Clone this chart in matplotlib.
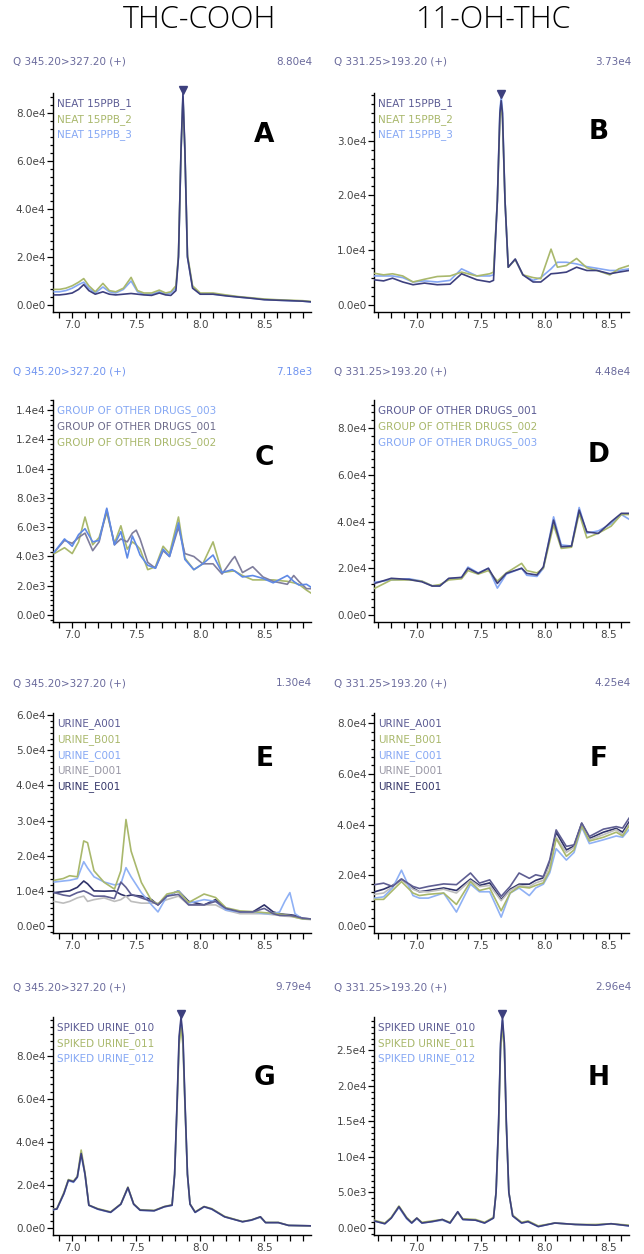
import matplotlib
matplotlib.use('Agg')
import matplotlib.pyplot as plt
import matplotlib.transforms as mtransforms
from matplotlib.ticker import MultipleLocator, AutoMinorLocator, FuncFormatter
import numpy as np

# ---- data (time in min, intensity in e4 unless noted) ----
a_time = [6.86, 6.90, 6.95, 7.00, 7.05, 7.09, 7.13, 7.18, 7.24, 7.29, 7.34, 7.40, 7.46, 7.51, 7.56, 7.62, 7.68,
          7.73, 7.77, 7.81, 7.83, 7.85, 7.865, 7.88, 7.90, 7.94, 8.00, 8.10, 8.20, 8.30, 8.40, 8.50, 8.60,
          8.70, 8.80, 8.865]
a_neat1 = [0.42, 0.42, 0.45, 0.50, 0.65, 0.85, 0.60, 0.45, 0.55, 0.45, 0.42, 0.45, 0.48, 0.45, 0.42, 0.40, 0.50,
           0.42, 0.40, 0.60, 2.00, 6.50, 8.80, 6.50, 2.00, 0.70, 0.45, 0.45, 0.38, 0.33, 0.28, 0.22, 0.20,
           0.18, 0.16, 0.13]
a_neat2 = [0.65, 0.65, 0.70, 0.80, 0.95, 1.10, 0.80, 0.55, 0.90, 0.60, 0.55, 0.70, 1.15, 0.60, 0.50, 0.50, 0.62,
           0.50, 0.55, 0.80, 2.10, 6.40, 8.60, 6.40, 2.10, 0.80, 0.50, 0.50, 0.42, 0.35, 0.30, 0.25, 0.22,
           0.20, 0.18, 0.15]
a_neat3 = [0.55, 0.55, 0.60, 0.70, 0.85, 0.95, 0.70, 0.50, 0.75, 0.55, 0.50, 0.65, 1.00, 0.55, 0.45, 0.45, 0.55,
           0.45, 0.50, 0.70, 2.00, 6.40, 8.70, 6.40, 2.00, 0.75, 0.45, 0.45, 0.40, 0.33, 0.28, 0.23, 0.20,
           0.18, 0.16, 0.13]

b_time = [6.665, 6.74, 6.81, 6.89, 6.97, 7.06, 7.16, 7.26, 7.35, 7.47, 7.57, 7.60, 7.63, 7.65, 7.66, 7.67,
          7.69, 7.715, 7.77, 7.83, 7.91, 7.97, 8.05, 8.10, 8.17, 8.25, 8.33, 8.41, 8.51, 8.58, 8.66]
b_neat1 = [0.46, 0.44, 0.49, 0.42, 0.37, 0.40, 0.37, 0.38, 0.57, 0.46, 0.42, 0.45, 1.90, 3.50, 3.73, 3.50,
           1.90, 0.69, 0.84, 0.55, 0.42, 0.42, 0.57, 0.58, 0.60, 0.69, 0.63, 0.63, 0.57, 0.60, 0.63]
b_neat2 = [0.58, 0.55, 0.57, 0.53, 0.42, 0.47, 0.52, 0.53, 0.60, 0.53, 0.57, 0.60, 1.90, 3.40, 3.65, 3.40,
           1.90, 0.69, 0.83, 0.55, 0.50, 0.48, 1.02, 0.69, 0.72, 0.85, 0.68, 0.63, 0.55, 0.66, 0.72]
b_neat3 = [0.53, 0.53, 0.53, 0.50, 0.42, 0.44, 0.42, 0.45, 0.66, 0.53, 0.53, 0.55, 1.90, 3.55, 3.80, 3.55,
           1.90, 0.69, 0.83, 0.55, 0.45, 0.50, 0.66, 0.78, 0.78, 0.75, 0.70, 0.67, 0.63, 0.63, 0.66]

# panel C in e3
c_time = [6.86, 6.94, 7.00, 7.05, 7.10, 7.16, 7.21, 7.27, 7.33, 7.38, 7.43, 7.47, 7.50, 7.53, 7.59, 7.65, 7.71,
          7.76, 7.83, 7.88, 7.95, 8.02, 8.10, 8.17, 8.25, 8.27, 8.33, 8.41, 8.49, 8.57, 8.68, 8.73, 8.77, 8.83, 8.865]
c_drugs003 = [4.3, 5.2, 4.7, 5.5, 5.9, 5.0, 5.1, 7.3, 4.8, 5.7, 3.9, 5.4, 4.8, 4.1, 3.4, 3.2, 4.5,
              4.0, 6.3, 3.8, 3.1, 3.5, 4.1, 2.9, 3.1, 3.0, 2.6, 2.7, 2.5, 2.2, 2.7, 2.3, 2.05, 2.1, 1.9]
c_drugs001 = [4.3, 5.1, 4.9, 5.3, 5.6, 4.4, 5.0, 7.2, 4.8, 5.2, 5.0, 5.6, 5.8, 5.2, 3.6, 3.2, 4.4,
              4.0, 6.0, 4.2, 4.0, 3.5, 3.5, 2.8, 3.8, 4.0, 2.9, 3.3, 2.6, 2.3, 2.1, 2.7, 2.3, 1.8, 1.8]
c_drugs002 = [4.2, 4.6, 4.2, 5.0, 6.7, 4.8, 5.3, 7.0, 4.9, 6.1, 4.5, 5.0, 4.8, 4.5, 3.1, 3.3, 4.7,
              4.2, 6.7, 3.9, 3.1, 3.5, 5.0, 2.9, 3.0, 3.0, 2.7, 2.4, 2.4, 2.4, 2.3, 2.2, 2.1, 1.7, 1.5]

d_time = [6.67, 6.80, 6.94, 7.04, 7.12, 7.18, 7.25, 7.35, 7.40, 7.48, 7.56, 7.63, 7.70, 7.82, 7.86, 7.94,
          7.99, 8.07, 8.13, 8.21, 8.27, 8.33, 8.42, 8.52, 8.60, 8.66]
d_drugs001 = [1.35, 1.57, 1.52, 1.42, 1.24, 1.24, 1.57, 1.61, 2.00, 1.78, 2.00, 1.35, 1.78, 2.00, 1.78, 1.71,
              2.06, 4.06, 2.92, 2.95, 4.49, 3.56, 3.49, 3.99, 4.35, 4.35]
d_drugs002 = [1.14, 1.50, 1.50, 1.45, 1.25, 1.30, 1.50, 1.55, 1.90, 1.75, 1.90, 1.45, 1.80, 2.21, 1.90, 1.80,
              2.00, 3.85, 2.85, 2.90, 4.35, 3.30, 3.50, 3.80, 4.30, 4.30]
d_drugs003 = [1.40, 1.50, 1.55, 1.45, 1.25, 1.25, 1.55, 1.60, 2.05, 1.80, 2.00, 1.15, 1.75, 2.00, 1.70, 1.65,
              2.00, 4.20, 3.00, 2.95, 4.60, 3.50, 3.60, 3.90, 4.30, 4.10]

e_time = [6.86, 6.93, 6.98, 7.04, 7.09, 7.12, 7.17, 7.25, 7.33, 7.38, 7.42, 7.46, 7.54, 7.62, 7.67, 7.74,
          7.83, 7.91, 8.03, 8.12, 8.20, 8.31, 8.41, 8.50, 8.57, 8.62, 8.66, 8.70, 8.74, 8.80, 8.865]
e_a001 = [0.95, 0.88, 0.85, 0.95, 1.00, 0.95, 0.85, 0.85, 0.78, 1.25, 1.10, 0.90, 0.80, 0.70, 0.60, 0.85,
          0.90, 0.60, 0.60, 0.70, 0.50, 0.40, 0.40, 0.50, 0.35, 0.30, 0.30, 0.30, 0.28, 0.22, 0.20]
e_b001 = [1.30, 1.35, 1.43, 1.40, 2.42, 2.37, 1.57, 1.24, 1.05, 1.57, 3.03, 2.13, 1.24, 0.72, 0.62, 0.91,
          0.98, 0.67, 0.91, 0.81, 0.52, 0.43, 0.41, 0.38, 0.36, 0.34, 0.32, 0.30, 0.25, 0.20, 0.20]
e_c001 = [1.25, 1.28, 1.30, 1.35, 1.83, 1.65, 1.40, 1.25, 1.17, 1.20, 1.66, 1.40, 0.95, 0.60, 0.40, 0.85,
          1.00, 0.65, 0.75, 0.70, 0.45, 0.40, 0.40, 0.35, 0.35, 0.40, 0.70, 0.95, 0.35, 0.20, 0.20]
e_d001 = [0.70, 0.65, 0.70, 0.80, 0.85, 0.70, 0.75, 0.80, 0.70, 0.75, 0.85, 0.70, 0.65, 0.65, 0.65, 0.75,
          0.85, 0.60, 0.60, 0.60, 0.45, 0.35, 0.35, 0.35, 0.32, 0.30, 0.28, 0.27, 0.25, 0.20, 0.18]
e_e001 = [0.95, 0.98, 1.00, 1.10, 1.28, 1.20, 1.00, 0.99, 1.00, 0.90, 0.85, 0.88, 0.85, 0.75, 0.60, 0.85,
          1.00, 0.70, 0.60, 0.75, 0.50, 0.40, 0.40, 0.60, 0.40, 0.35, 0.33, 0.32, 0.30, 0.22, 0.20]

f_time = [6.67, 6.74, 6.81, 6.88, 6.97, 7.02, 7.09, 7.21, 7.31, 7.42, 7.49, 7.57, 7.66, 7.73, 7.80, 7.88,
          7.93, 7.99, 8.04, 8.09, 8.17, 8.23, 8.29, 8.35, 8.46, 8.56, 8.61, 8.66]
f_a001 = [1.63, 1.69, 1.56, 1.85, 1.56, 1.48, 1.56, 1.66, 1.63, 2.09, 1.69, 1.82, 1.17, 1.56, 2.09, 1.88,
          2.02, 1.95, 2.61, 3.79, 3.14, 3.20, 4.06, 3.53, 3.82, 3.92, 3.86, 4.25]
f_b001 = [1.05, 1.05, 1.40, 1.75, 1.30, 1.20, 1.25, 1.30, 0.85, 1.75, 1.40, 1.50, 0.60, 1.30, 1.55, 1.50,
          1.60, 1.70, 2.20, 3.45, 2.75, 3.00, 3.95, 3.35, 3.50, 3.70, 3.55, 3.95]
f_c001 = [1.10, 1.15, 1.50, 2.20, 1.20, 1.10, 1.10, 1.30, 0.55, 1.65, 1.35, 1.35, 0.35, 1.30, 1.50, 1.20,
          1.50, 1.65, 2.10, 3.05, 2.60, 2.90, 3.90, 3.25, 3.40, 3.55, 3.50, 3.80]
f_d001 = [1.25, 1.30, 1.55, 1.85, 1.45, 1.35, 1.35, 1.45, 1.30, 1.80, 1.55, 1.60, 1.00, 1.40, 1.60, 1.55,
          1.70, 1.80, 2.40, 3.50, 2.90, 3.10, 4.00, 3.40, 3.60, 3.80, 3.60, 4.00]
f_e001 = [1.35, 1.45, 1.60, 1.85, 1.50, 1.35, 1.40, 1.50, 1.40, 1.85, 1.60, 1.70, 1.05, 1.45, 1.65, 1.65,
          1.80, 1.90, 2.50, 3.70, 3.00, 3.15, 4.05, 3.45, 3.70, 3.85, 3.70, 4.10]

g_time = [6.85, 6.88, 6.935, 6.97, 7.01, 7.04, 7.07, 7.10, 7.13, 7.20, 7.30, 7.38, 7.435, 7.48, 7.53, 7.64,
          7.72, 7.78, 7.80, 7.82, 7.835, 7.85, 7.865, 7.88, 7.90, 7.92, 7.96, 8.03, 8.09, 8.19, 8.33, 8.40,
          8.47, 8.51, 8.61, 8.69, 8.865]
g_spk010 = [0.86, 0.88, 1.60, 2.22, 2.15, 2.37, 3.46, 2.50, 1.06, 0.88, 0.73, 1.11, 1.88, 1.11, 0.83, 0.80,
            0.99, 1.06, 2.50, 6.00, 8.90, 9.79, 8.90, 6.00, 2.50, 1.11, 0.73, 0.99, 0.88, 0.52, 0.29, 0.37,
            0.52, 0.25, 0.25, 0.12, 0.10]
g_spk011 = [0.88, 0.90, 1.65, 2.25, 2.18, 2.40, 3.62, 2.55, 1.06, 0.90, 0.75, 1.12, 1.90, 1.12, 0.85, 0.82,
            1.00, 1.08, 2.50, 5.80, 8.50, 9.30, 8.50, 5.80, 2.50, 1.12, 0.75, 1.00, 0.90, 0.54, 0.30, 0.38,
            0.52, 0.26, 0.26, 0.12, 0.10]
g_spk012 = [0.85, 0.88, 1.58, 2.20, 2.12, 2.35, 3.40, 2.48, 1.05, 0.87, 0.72, 1.10, 1.85, 1.10, 0.82, 0.80,
            0.98, 1.05, 2.50, 5.90, 8.70, 9.60, 8.70, 5.90, 2.50, 1.10, 0.72, 0.98, 0.87, 0.52, 0.29, 0.36,
            0.50, 0.25, 0.25, 0.12, 0.10]

h_time = [6.665, 6.75, 6.80, 6.86, 6.92, 6.96, 7.00, 7.04, 7.12, 7.20, 7.26, 7.32, 7.36, 7.46, 7.53, 7.60,
          7.62, 7.64, 7.655, 7.67, 7.685, 7.70, 7.72, 7.75, 7.82, 7.87, 7.95, 8.08, 8.24, 8.40, 8.52, 8.66]
h_spk010 = [0.10, 0.06, 0.14, 0.30, 0.14, 0.07, 0.14, 0.07, 0.09, 0.12, 0.07, 0.23, 0.12, 0.11, 0.07, 0.14,
            0.50, 1.50, 2.60, 2.96, 2.60, 1.50, 0.50, 0.17, 0.07, 0.09, 0.02, 0.07, 0.05, 0.04, 0.06, 0.03]
h_spk011 = [0.11, 0.07, 0.15, 0.31, 0.15, 0.08, 0.14, 0.08, 0.10, 0.12, 0.08, 0.22, 0.13, 0.12, 0.08, 0.15,
            0.50, 1.45, 2.50, 2.85, 2.50, 1.45, 0.50, 0.18, 0.08, 0.10, 0.03, 0.07, 0.05, 0.05, 0.06, 0.04]
h_spk012 = [0.10, 0.06, 0.14, 0.29, 0.13, 0.07, 0.13, 0.07, 0.09, 0.11, 0.07, 0.22, 0.12, 0.11, 0.07, 0.14,
            0.50, 1.50, 2.55, 2.92, 2.55, 1.50, 0.50, 0.17, 0.07, 0.09, 0.02, 0.07, 0.05, 0.04, 0.06, 0.03]

col_titles = ['THC-COOH', '11-OH-THC']
mrm_left = 'Q 345.20>327.20 (+)'
mrm_right = 'Q 331.25>193.20 (+)'

NAVY = '#3d407e'
GREEN = '#a9b86c'
BLUE = '#86a8f4'
LBL_NAVY = '#5c5c94'
HDR = '#6a6a9c'

neat_lbl = ['NEAT 15PPB_1', 'NEAT 15PPB_2', 'NEAT 15PPB_3']
urine_lbl_e = ['URINE_A001', 'URINE_B001', 'URINE_C001', 'URINE_D001', 'URINE_E001']
urine_lbl_f = ['URINE_A001', 'UIRNE_B001', 'URINE_C001', 'URINE_D001', 'URINE_E001']
urine_line_col = ['#5e5e92', GREEN, '#8fb1f5', '#bdbdbd', '#30336a']
urine_lbl_col = [LBL_NAVY, GREEN, BLUE, '#9a98a6', '#35376a']
spk_lbl = ['SPIKED URINE_010', 'SPIKED URINE_011', 'SPIKED URINE_012']

panels = [
    dict(letter='A', time=a_time, ys=[a_neat1, a_neat2, a_neat3], scale=1e4, labels=neat_lbl,
         lc=[NAVY, GREEN, BLUE], tc=[LBL_NAVY, GREEN, BLUE], hdr=mrm_left, hdr_c=HDR, maxv='8.80e4',
         top=8.83e4, step=2e4, peak=(7.865, 8.8e4), ly=0.81),
    dict(letter='B', time=b_time, ys=[b_neat1, b_neat2, b_neat3], scale=1e4, labels=neat_lbl,
         lc=[NAVY, GREEN, BLUE], tc=[LBL_NAVY, GREEN, BLUE], hdr=mrm_right, hdr_c=HDR, maxv='3.73e4',
         top=3.87e4, step=1e4, peak=(7.66, 3.78e4), ly=0.82),
    dict(letter='C', time=c_time, ys=[c_drugs003, c_drugs001, c_drugs002], scale=1e3,
         labels=['GROUP OF OTHER DRUGS_003', 'GROUP OF OTHER DRUGS_001', 'GROUP OF OTHER DRUGS_002'],
         lc=['#5e89e6', '#7f7d9c', GREEN], tc=[BLUE, '#6e6c8c', GREEN], hdr=mrm_left, hdr_c='#7094f0',
         maxv='7.18e3', top=1.47e4, step=2e3, peak=None, ly=0.74),
    dict(letter='D', time=d_time, ys=[d_drugs001, d_drugs002, d_drugs003], scale=1e4,
         labels=['GROUP OF OTHER DRUGS_001', 'GROUP OF OTHER DRUGS_002', 'GROUP OF OTHER DRUGS_003'],
         lc=[NAVY, GREEN, BLUE], tc=[LBL_NAVY, GREEN, BLUE], hdr=mrm_right, hdr_c=HDR, maxv='4.48e4',
         top=9.2e4, step=2e4, peak=None, ly=0.75),
    dict(letter='E', time=e_time, ys=[e_a001, e_b001, e_c001, e_d001, e_e001], scale=1e4, labels=urine_lbl_e,
         lc=urine_line_col, tc=urine_lbl_col, hdr=mrm_left, hdr_c=HDR, maxv='1.30e4',
         top=6.06e4, step=1e4, peak=None, ly=0.79),
    dict(letter='F', time=f_time, ys=[f_a001, f_b001, f_c001, f_d001, f_e001], scale=1e4, labels=urine_lbl_f,
         lc=urine_line_col, tc=urine_lbl_col, hdr=mrm_right, hdr_c=HDR, maxv='4.25e4',
         top=8.4e4, step=2e4, peak=None, ly=0.79),
    dict(letter='G', time=g_time, ys=[g_spk010, g_spk011, g_spk012], scale=1e4, labels=spk_lbl,
         lc=[NAVY, GREEN, BLUE], tc=[LBL_NAVY, GREEN, BLUE], hdr=mrm_left, hdr_c=HDR, maxv='9.79e4',
         top=9.8e4, step=2e4, peak=(7.85, 9.79e4), ly=0.72),
    dict(letter='H', time=h_time, ys=[h_spk010, h_spk011, h_spk012], scale=1e4, labels=spk_lbl,
         lc=[NAVY, GREEN, BLUE], tc=[LBL_NAVY, GREEN, BLUE], hdr=mrm_right, hdr_c=HDR, maxv='2.96e4',
         top=2.97e4, step=5e3, peak=(7.67, 2.96e4), ly=0.72),
]


def sci(v, pos):
    if abs(v) < 1e-6:
        return '0.0e0'
    e = int(np.floor(np.log10(abs(v)) + 1e-9))
    return '%.1fe%d' % (v / 10 ** e, e)


W, H = 644, 1254
fig = plt.figure(figsize=(W / 100, H / 100), dpi=100)

rows = [(93, 312), (400, 622), (713, 933), (1017, 1235)]
hdr_y = [62, 372, 683, 987]
cols = [(53, 311, 6.85, 8.865, 13, 312), (374, 629, 6.665, 8.66, 334, 631)]

for i, p in enumerate(panels):
    r, c = i // 2, i % 2
    top_px, bot_px = rows[r]
    x0, x1, xmin, xmax, hx0, hx1 = cols[c]
    ax = fig.add_axes([x0 / W, 1 - bot_px / H, (x1 - x0) / W, (bot_px - top_px) / H])
    n = len(p['ys'])
    for k in range(n):
        ax.plot(p['time'], np.array(p['ys'][k]) * p['scale'], color=p['lc'][k], lw=1.2,
                zorder=10 - k, solid_joinstyle='round')
    for k, lab in enumerate(p['labels']):
        ax.text(0.015, 0.975 - k * 0.071, lab, transform=ax.transAxes, color=p['tc'][k],
                fontsize=7.5, va='top', ha='left')
    ax.text(0.82 if c == 0 else 0.88, p['ly'], p['letter'], transform=ax.transAxes,
            fontsize=19, fontweight='bold', ha='center', va='center', color='black')
    if p['peak'] is not None:
        tr = mtransforms.offset_copy(ax.transData, fig=fig, y=2.5, units='points')
        ax.plot([p['peak'][0]], [p['peak'][1]], marker='v', color=NAVY, ms=5.5,
                transform=tr, clip_on=False, zorder=20)
    top = p['top']
    ax.set_ylim(-top * 7 / (bot_px - top_px - 7), top)
    ax.set_xlim(xmin, xmax)
    ax.yaxis.set_major_locator(MultipleLocator(p['step']))
    ax.yaxis.set_minor_locator(AutoMinorLocator(6))
    ax.yaxis.set_major_formatter(FuncFormatter(sci))
    ax.xaxis.set_major_locator(MultipleLocator(0.5))
    ax.xaxis.set_minor_locator(MultipleLocator(0.1))
    ax.xaxis.set_major_formatter(FuncFormatter(lambda v, pos: '%.1f' % v))
    for s in ['top', 'right']:
        ax.spines[s].set_visible(False)
    for s in ['left', 'bottom']:
        ax.spines[s].set_linewidth(1.0)
    ax.tick_params(axis='both', which='major', direction='out', length=4, width=0.9,
                   labelsize=7.5, labelcolor='#444444', pad=1.5)
    ax.tick_params(axis='both', which='minor', direction='out', length=4, width=0.9)
    ax.tick_params(axis='y', which='minor', length=2.5)
    ax.set_facecolor('none')

    fig.text(hx0 / W, 1 - hdr_y[r] / H, p['hdr'], color=p['hdr_c'], fontsize=7.5, ha='left', va='center')
    fig.text(hx1 / W, 1 - hdr_y[r] / H, p['maxv'], color=p['hdr_c'], fontsize=7.5, ha='right', va='center')

fig.text(200 / W, 1 - 20 / H, col_titles[0], fontsize=22, ha='center', va='center',
         family='Open Sans', fontweight='light')
fig.text(494 / W, 1 - 20 / H, col_titles[1], fontsize=22, ha='center', va='center',
         family='Open Sans', fontweight='light')

fig.savefig('out.png', dpi=100)
